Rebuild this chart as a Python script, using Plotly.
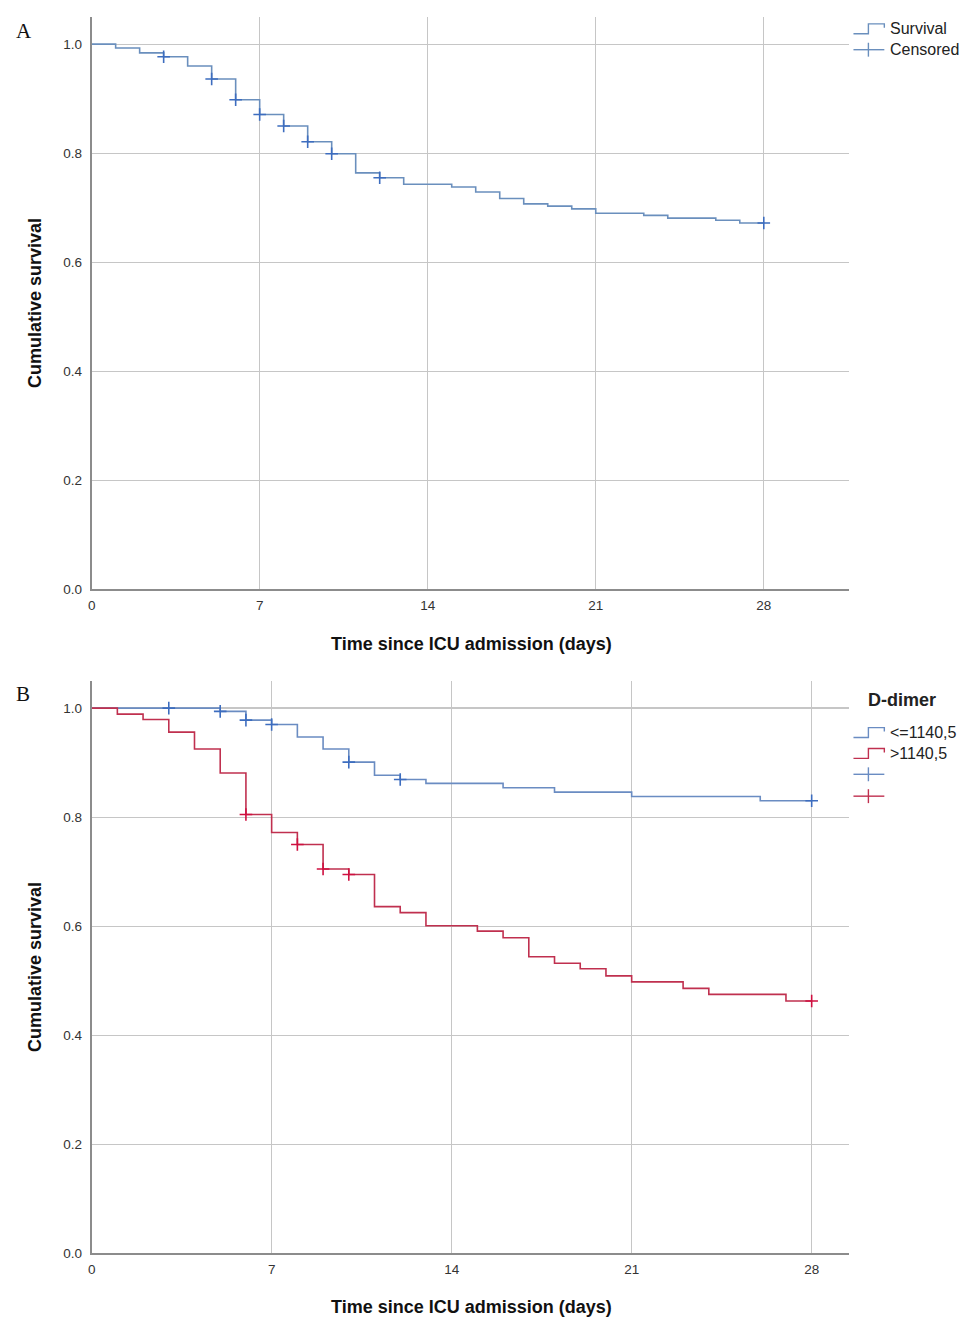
import plotly.graph_objects as go

W, H = 965, 1325

# ---------------- data ----------------
# Panel A: overall Kaplan-Meier curve
a_times = [0, 1, 2, 3, 4, 5, 6, 7, 8, 9, 10, 11, 12, 13, 15, 16, 17, 18, 19, 20, 21, 23, 24, 26, 27]
a_surv = [1.0, 0.993, 0.984, 0.977, 0.960, 0.936, 0.898, 0.871, 0.850, 0.821, 0.799, 0.764, 0.755,
          0.743, 0.738, 0.729, 0.717, 0.707, 0.703, 0.698, 0.690, 0.686, 0.681, 0.677, 0.672]
a_cens_times = [3, 5, 6, 7, 8, 9, 10, 12, 28]

# Panel B: by D-dimer group
b_low_times = [0, 5, 6, 7, 8, 9, 10, 11, 12, 13, 16, 18, 21, 26]
b_low_surv = [1.0, 0.994, 0.978, 0.970, 0.947, 0.925, 0.901, 0.877, 0.869, 0.862, 0.854, 0.846, 0.838, 0.830]
b_low_cens_times = [3, 5, 6, 7, 10, 12, 28]

b_high_times = [0, 1, 2, 3, 4, 5, 6, 7, 8, 9, 10, 11, 12, 13, 15, 16, 17, 18, 19, 20, 21, 23, 24, 27]
b_high_surv = [1.0, 0.989, 0.979, 0.956, 0.925, 0.881, 0.805, 0.772, 0.750, 0.705, 0.695, 0.636,
               0.625, 0.601, 0.591, 0.579, 0.544, 0.532, 0.522, 0.509, 0.498, 0.486, 0.475, 0.463]
b_high_cens_times = [6, 8, 9, 10, 28]

end_time = 28
x_ticks = [0, 7, 14, 21, 28]
y_ticks = [0.0, 0.2, 0.4, 0.6, 0.8, 1.0]
x_title = "Time since ICU admission (days)"
y_title = "Cumulative survival"
legend_a_labels = ["Survival", "Censored"]
legend_b_title = "D-dimer"
group_labels = ["<=1140,5", ">1140,5"]
panel_labels = ["A", "B"]

# ---------------- styles ----------------
BLUE_LINE = "#6a8cc2"
BLUE_MARK = "#3d6dbf"
RED_LINE = "#c0304f"
RED_MARK = "#cf1040"
A_LINE = "#6a8fbd"
GRID = "#c6c6c6"
AXIS = "#8c8c8c"
FONT = "Liberation Sans, Arial, sans-serif"


def step_xy(times, surv, end=end_time):
    return list(times) + [end], list(surv) + [surv[-1]]


def surv_at(times, surv, t):
    val = surv[0]
    for ti, si in zip(times, surv):
        if ti <= t:
            val = si
    return val


fig = go.Figure()


def add_curve(times, surv, cens, line_col, mark_col, xa, ya):
    sx, sy = step_xy(times, surv)
    fig.add_trace(go.Scatter(x=sx, y=sy, mode="lines", line=dict(shape="hv", color=line_col, width=1.6),
                             xaxis=xa, yaxis=ya, showlegend=False, hoverinfo="skip"))
    cy = [surv_at(times, surv, t) for t in cens]
    fig.add_trace(go.Scatter(x=cens, y=cy, mode="markers",
                             marker=dict(symbol="cross-thin", size=9, line=dict(color=mark_col, width=1.6)),
                             xaxis=xa, yaxis=ya, showlegend=False, hoverinfo="skip"))


add_curve(a_times, a_surv, a_cens_times, A_LINE, BLUE_MARK, "x", "y")
add_curve(b_low_times, b_low_surv, b_low_cens_times, BLUE_LINE, BLUE_MARK, "x2", "y2")
add_curve(b_high_times, b_high_surv, b_high_cens_times, RED_LINE, RED_MARK, "x2", "y2")


def px(x):
    return x / W


def py(y):
    return 1 - y / H


xdom = [px(88), px(849)]
ydomA = [py(593), py(17)]
ydomB = [py(1261), py(685)]

common_x = dict(tickvals=x_ticks, showgrid=True, gridcolor=GRID, gridwidth=1.3, showline=True,
                linecolor=AXIS, linewidth=1.8, zeroline=False, ticks="", ticklabelstandoff=3,
                tickfont=dict(family=FONT, size=13.5, color="#333333"), fixedrange=True)
common_y = dict(tickvals=y_ticks, tickformat=".1f", showgrid=True, gridcolor=GRID, gridwidth=1.3,
                showline=True, linecolor=AXIS, linewidth=1.8, zeroline=False, ticks="",
                ticklabelstandoff=5, tickfont=dict(family=FONT, size=13.5, color="#333333"),
                range=[0, 1.05], fixedrange=True)

fig.update_layout(
    width=W, height=H,
    margin=dict(l=0, r=0, t=0, b=0),
    paper_bgcolor="white", plot_bgcolor="white",
    showlegend=False,
    font=dict(family=FONT, color="#222222"),
    xaxis=dict(domain=xdom, anchor="y", range=[0, 31.57], **common_x),
    yaxis=dict(domain=ydomA, anchor="x", **common_y),
    xaxis2=dict(domain=xdom, anchor="y2", range=[0, 29.47], **common_x),
    yaxis2=dict(domain=ydomB, anchor="x2", **common_y),
)

annotations = []
shapes = []

# axis titles and panel letters
for xt_y, yt_c, lab_y, lab in [(648, 305, 31, panel_labels[0]), (1315, 973, 698, panel_labels[1])]:
    annotations.append(dict(text="<b>" + x_title + "</b>", x=px(469), y=py(xt_y), xref="paper", yref="paper",
                            showarrow=False, xanchor="center", yanchor="middle",
                            font=dict(family=FONT, size=18, color="#111111")))
    annotations.append(dict(text="<b>" + y_title + "</b>", x=px(31), y=py(yt_c), xref="paper", yref="paper",
                            showarrow=False, xanchor="center", yanchor="middle", textangle=-90,
                            font=dict(family=FONT, size=18, color="#111111")))
    annotations.append(dict(text=lab, x=px(10), y=py(lab_y), xref="paper", yref="paper",
                            showarrow=False, xanchor="left", yanchor="middle",
                            font=dict(family="Liberation Serif, Times New Roman, serif", size=21, color="#111111")))


def step_icon(yc, col):
    pts = [(853, yc + 5), (868, yc + 5), (868, yc - 5), (884, yc - 5), (884, yc - 1)]
    path = "M " + " L ".join(f"{px(x):.5f},{py(y):.5f}" for x, y in pts)
    shapes.append(dict(type="path", path=path, xref="paper", yref="paper",
                       line=dict(color=col, width=1.4)))


def plus_icon(yc, col):
    shapes.append(dict(type="line", x0=px(853), x1=px(884), y0=py(yc), y1=py(yc), xref="paper", yref="paper",
                       line=dict(color=col, width=1.4)))
    shapes.append(dict(type="line", x0=px(868), x1=px(868), y0=py(yc - 7), y1=py(yc + 7), xref="paper",
                       yref="paper", line=dict(color=col, width=1.4)))


def legend_text(txt, yc, bold=False, x=888, size=16):
    annotations.append(dict(text=("<b>" + txt + "</b>") if bold else txt, x=px(x), y=py(yc),
                            xref="paper", yref="paper", showarrow=False, xanchor="left", yanchor="middle",
                            font=dict(family=FONT, size=size, color="#222222")))


# Legend A
step_icon(29, A_LINE)
legend_text(legend_a_labels[0], 29)
plus_icon(50, A_LINE)
legend_text(legend_a_labels[1], 50)

# Legend B
legend_text(legend_b_title, 704, bold=True, x=866, size=18)
step_icon(737, BLUE_LINE)
legend_text(group_labels[0], 737)
step_icon(758, RED_LINE)
legend_text(group_labels[1], 758)
plus_icon(779, BLUE_LINE)
plus_icon(801, RED_LINE)

fig.update_layout(annotations=annotations, shapes=shapes)

fig.write_html("out.html",
               config={"displayModeBar": False, "staticPlot": True},
               post_script="document.body.style.margin='0';document.body.style.padding='0';"
                           "document.documentElement.style.overflow='hidden';")
